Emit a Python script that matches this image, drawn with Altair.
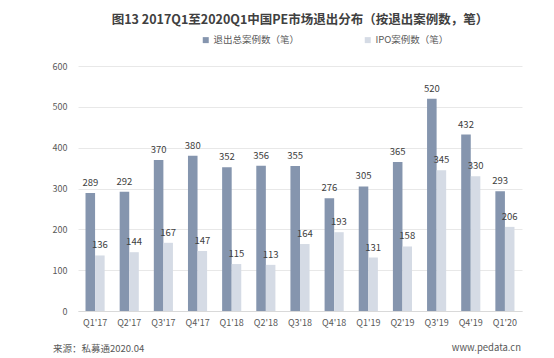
import altair as alt
import pandas as pd

quarters = ["Q1'17", "Q2'17", "Q3'17", "Q4'17", "Q1'18", "Q2'18", "Q3'18",
            "Q4'18", "Q1'19", "Q2'19", "Q3'19", "Q4'19", "Q1'20"]
total_exits = [289, 292, 370, 380, 352, 356, 355, 276, 305, 365, 520, 432, 293]
ipo_exits = [136, 144, 167, 147, 115, 113, 164, 193, 131, 158, 345, 330, 206]
series_names = ["退出总案例数（笔）", "IPO案例数（笔）"]
series_colors = ["#8595ae", "#d5dbe5"]
y_ticks = [0, 100, 200, 300, 400, 500, 600]
title_text = "图13 2017Q1至2020Q1中国PE市场退出分布（按退出案例数，笔）"
source_text = "来源：私募通2020.04"
site_text = "www.pedata.cn"

rows = []
for q, t, i in zip(quarters, total_exits, ipo_exits):
    rows.append({"季度": q, "系列": series_names[0], "数量": t})
    rows.append({"季度": q, "系列": series_names[1], "数量": i})
df = pd.DataFrame(rows)

FONT = "Noto Sans CJK SC"

x_enc = alt.X("季度:N", sort=quarters,
              scale=alt.Scale(paddingInner=0.44, paddingOuter=0.22),
              axis=alt.Axis(title=None, labelAngle=0, ticks=False, grid=False,
                            domainColor="#d9d9d9", labelColor="#595959",
                            labelFontSize=9, labelPadding=7))
xoff_enc = alt.XOffset("系列:N", sort=series_names,
                       scale=alt.Scale(domain=series_names, paddingInner=0, paddingOuter=0))
y_enc = alt.Y("数量:Q", scale=alt.Scale(domain=[0, 600], nice=False),
              axis=alt.Axis(title=None, values=y_ticks, domain=False, ticks=False,
                            gridColor="#e8e8e8", labelColor="#595959",
                            labelFontSize=9, labelPadding=11))

base = alt.Chart(df)

bars = base.mark_bar().encode(
    x=x_enc,
    xOffset=xoff_enc,
    y=y_enc,
    color=alt.Color("系列:N", sort=series_names,
                    scale=alt.Scale(domain=series_names, range=series_colors),
                    legend=alt.Legend(title=None, orient="none", legendX=123, legendY=-31,
                                      direction="horizontal", symbolType="square",
                                      symbolSize=36, symbolStrokeWidth=0,
                                      labelFontSize=9.5, labelColor="#595959",
                                      columnPadding=63, labelOffset=3, padding=0)),
)

labels = base.mark_text(dy=-5, baseline="bottom", fontSize=9.5, color="#404040").encode(
    x=x_enc,
    xOffset=xoff_enc,
    y=y_enc,
    text=alt.Text("数量:Q"),
)

source = alt.Chart(pd.DataFrame({"t": [source_text]})).mark_text(
    align="left", baseline="middle", fontSize=9.5, color="#595959"
).encode(x=alt.value(-25), y=alt.value(283), text="t:N")

site = alt.Chart(pd.DataFrame({"t": [site_text]})).mark_text(
    align="right", baseline="middle", fontSize=9.5, color="#595959"
).encode(x=alt.value(443), y=alt.value(282), text="t:N")

chart = alt.layer(bars, labels, source, site).properties(
    width=444,
    height=245,
    title=alt.TitleParams(text=title_text, fontSize=12.5, fontWeight="bold",
                          color="#404040", anchor="middle", frame="group", offset=9),
    autosize=alt.AutoSizeParams(type="none"),
    padding={"left": 70, "top": 58, "right": 24, "bottom": 46},
).configure(font=FONT).configure_view(stroke=None)

chart.save("out.html", embed_options={"renderer": "svg", "actions": False})
